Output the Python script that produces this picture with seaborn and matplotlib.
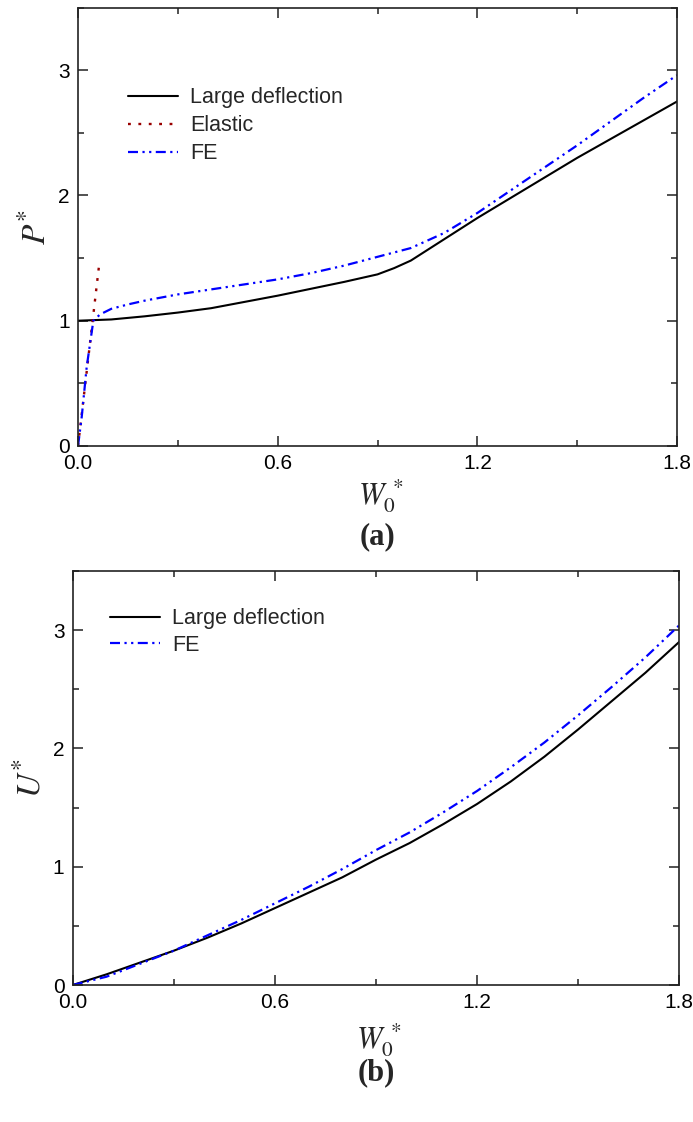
import matplotlib
matplotlib.use("Agg")
import matplotlib.pyplot as plt
import seaborn as sns
import numpy as np
import pandas as pd
from matplotlib.ticker import MultipleLocator

# ---------------- data ----------------
# (a) load P* vs W0*
ld_w = [0.0, 0.1, 0.2, 0.3, 0.4, 0.5, 0.6, 0.7, 0.8, 0.9, 0.95, 1.0, 1.1, 1.2, 1.3, 1.4, 1.5, 1.6, 1.7, 1.8]
ld_p = [1.0, 1.01, 1.035, 1.065, 1.10, 1.15, 1.20, 1.255, 1.31, 1.37, 1.42, 1.48, 1.65, 1.82, 1.98, 2.14, 2.30, 2.45, 2.60, 2.75]

el_w = [0.0, 0.064]
el_p = [0.0, 1.46]

fe_w = [0.0, 0.011, 0.026, 0.046, 0.066, 0.1, 0.15, 0.2, 0.3, 0.4, 0.5, 0.6, 0.7, 0.8, 0.9, 1.0, 1.1, 1.2, 1.3, 1.4, 1.5, 1.6, 1.7, 1.8]
fe_p = [0.0, 0.23, 0.63, 1.0, 1.05, 1.095, 1.13, 1.16, 1.21, 1.25, 1.29, 1.33, 1.38, 1.44, 1.51, 1.58, 1.70, 1.86, 2.04, 2.22, 2.40, 2.59, 2.78, 2.96]

# (b) energy U* vs W0*
u_w = [0.0, 0.1, 0.2, 0.3, 0.4, 0.5, 0.6, 0.7, 0.8, 0.9, 1.0, 1.1, 1.2, 1.3, 1.4, 1.5, 1.6, 1.7, 1.8]
ld_u = [0.0, 0.09, 0.19, 0.29, 0.40, 0.52, 0.65, 0.78, 0.91, 1.06, 1.20, 1.36, 1.53, 1.72, 1.93, 2.16, 2.40, 2.64, 2.90]
fe_u = [0.0, 0.07, 0.18, 0.29, 0.42, 0.55, 0.69, 0.83, 0.98, 1.14, 1.29, 1.46, 1.64, 1.84, 2.05, 2.28, 2.52, 2.77, 3.04]

x_ticks = [0.0, 0.6, 1.2, 1.8]
y_ticks = [0, 1, 2, 3]

# ---------------- style ----------------
sns.set_theme(style="ticks")
plt.rcParams['font.family'] = ['Liberation Sans', 'DejaVu Sans']
plt.rcParams['mathtext.fontset'] = 'stix'
plt.rcParams['axes.linewidth'] = 1.2

FE_DASH = (0, (4.5, 2, 1, 2, 1, 2))
LEG_FS = 15.5

fig = plt.figure(figsize=(6.93, 11.22), dpi=100)
ax1 = fig.add_axes([0.1126, 0.6025, 0.977 - 0.1126, 0.9933 - 0.6025])
ax2 = fig.add_axes([0.105, 0.1221, 0.980 - 0.105, 0.4911 - 0.1221])


def style_axes(ax, label_y):
    ax.set_xlim(0, 1.8)
    ax.set_ylim(0, 3.5)
    ax.set_xticks(x_ticks)
    ax.set_xticklabels([f"{v:.1f}" for v in x_ticks])
    ax.set_yticks(y_ticks)
    ax.set_yticklabels([str(v) for v in y_ticks])
    ax.xaxis.set_minor_locator(MultipleLocator(0.3))
    ax.yaxis.set_minor_locator(MultipleLocator(0.5))
    ax.tick_params(which='both', direction='in', top=True, right=True,
                   width=1.1, color='#222222', labelsize=15, labelcolor='black')
    ax.tick_params(which='major', length=7, pad=6)
    ax.tick_params(which='minor', length=4)
    for s in ax.spines.values():
        s.set_visible(True)
        s.set_color('#222222')
    ax.set_xlabel(r"$W_0^{\,*}$", fontsize=22)
    ax.xaxis.set_label_coords(0.505, label_y)


# ---- panel (a)
df_ld = pd.DataFrame({"W": ld_w, "P": ld_p})
df_el = pd.DataFrame({"W": el_w, "P": el_p})
df_fe = pd.DataFrame({"W": fe_w, "P": fe_p})
sns.lineplot(data=df_ld, x="W", y="P", ax=ax1, color="black", lw=1.5,
             sort=False, estimator=None, label="Large deflection")
sns.lineplot(data=df_el, x="W", y="P", ax=ax1, color="#990000", lw=1.7,
             linestyle=(0, (1.2, 3.2)), sort=False, estimator=None, label="Elastic")
sns.lineplot(data=df_fe, x="W", y="P", ax=ax1, color="#0000ff", lw=1.6,
             linestyle=FE_DASH, sort=False, estimator=None, label="FE")
style_axes(ax1, -0.072)
ax1.set_ylabel(r"$P^{*}$", fontsize=24, labelpad=4)
ax1.legend(loc='upper left', bbox_to_anchor=(0.0835, 0.818), frameon=False,
           borderaxespad=0, borderpad=0,
           fontsize=LEG_FS, handlelength=2.33, handletextpad=0.56, labelspacing=0.32)

# ---- panel (b)
df_ldu = pd.DataFrame({"W": u_w, "U": ld_u})
df_feu = pd.DataFrame({"W": u_w, "U": fe_u})
sns.lineplot(data=df_ldu, x="W", y="U", ax=ax2, color="black", lw=1.5,
             sort=False, estimator=None, label="Large deflection")
sns.lineplot(data=df_feu, x="W", y="U", ax=ax2, color="#0000ff", lw=1.6,
             linestyle=FE_DASH, sort=False, estimator=None, label="FE")
style_axes(ax2, -0.088)
ax2.set_ylabel(r"$U^{*}$", fontsize=24, labelpad=4)
ax2.legend(loc='upper left', bbox_to_anchor=(0.0615, 0.910), frameon=False,
           borderaxespad=0, borderpad=0,
           fontsize=LEG_FS, handlelength=2.33, handletextpad=0.56, labelspacing=0.25)

# panel tags
fig.text(0.5 * (0.1126 + 0.977), 1 - 537 / 1122, "(a)", ha='center', va='center',
         fontsize=22, fontweight='bold', family=['Liberation Serif', 'DejaVu Serif'])
fig.text(0.5 * (0.105 + 0.980), 1 - 1073 / 1122, "(b)", ha='center', va='center',
         fontsize=22, fontweight='bold', family=['Liberation Serif', 'DejaVu Serif'])

fig.savefig("out.png", dpi=100, facecolor='white')
